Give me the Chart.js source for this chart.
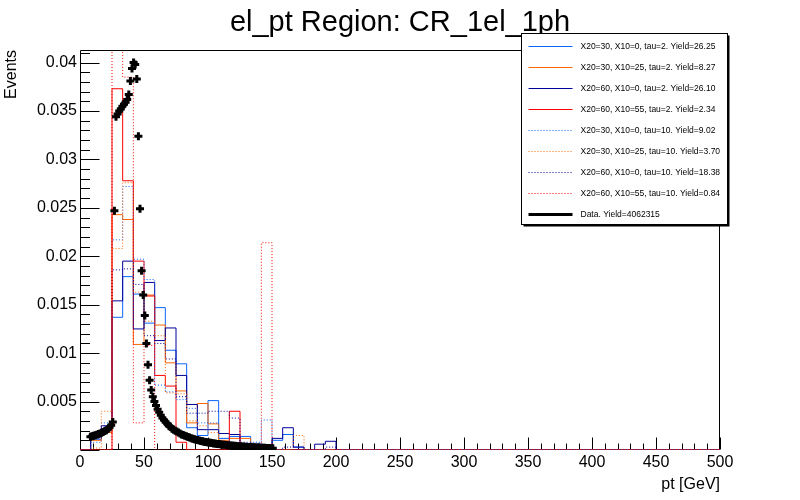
<!DOCTYPE html>
<html>
<head>
<meta charset="utf-8">
<title>el_pt Region: CR_1el_1ph</title>
<script src="https://cdn.jsdelivr.net/npm/chart.js@4.4.1/dist/chart.umd.min.js"></script>
<style>
  html, body { margin: 0; padding: 0; background: #fff; }
</style>
</head>
<body>
<canvas id="ptChart" width="800" height="500"></canvas>
<script>
// MC histograms: 60 bins of 500/60 GeV, only the first (non-empty) bins listed
const ptMax = 500;
const mcBinWidth = 500 / 60;

const h_30_0_tau2   = [0, 0.0011, 0.0021, 0.0137, 0.0179, 0.0161, 0.0131, 0.0147, 0.0103, 0.0089, 0.0023, 0.0015, 0.0051, 0.0012, 0.0014, 0.0014, 0.0003, 0.0003, 0.0010, 0.0016, 0.0003, 0, 0, 0];
const h_30_25_tau2  = [0, 0.0010, 0.0018, 0.0243, 0.0238, 0.0109, 0.0160, 0.0129, 0.0090, 0.0061, 0.0028, 0.0048, 0.0027, 0.0010, 0.0012, 0.0012, 0, 0, 0, 0, 0, 0, 0, 0];
const h_60_0_tau2   = [0, 0.0014, 0.0025, 0.0154, 0.0195, 0.0125, 0.0173, 0.0113, 0.0126, 0.0077, 0.0047, 0.0021, 0.0021, 0.0017, 0.0016, 0.0004, 0.0002, 0, 0.0012, 0.0023, 0.0003, 0, 0.0006, 0.0009];
const h_60_55_tau2  = [0, 0, 0, 0.0373, 0.0278, 0.0195, 0.0159, 0.0077, 0.0066, 0.0008, 0, 0, 0, 0, 0.0040, 0, 0, 0, 0, 0, 0, 0, 0, 0];
const h_30_0_tau10  = [0, 0.0008, 0.0028, 0.0217, 0.0272, 0.0197, 0.0176, 0.0067, 0.0060, 0.0052, 0.0043, 0.0028, 0.0028, 0.0012, 0.0008, 0.0006, 0.0008, 0.0031, 0, 0, 0, 0, 0, 0];
const h_30_25_tau10 = [0, 0.0002, 0.0040, 0.0208, 0.0276, 0.0163, 0.0133, 0.0118, 0.0059, 0.0058, 0.0030, 0.0025, 0.0018, 0.0008, 0.0006, 0.0004, 0, 0, 0, 0, 0.0015, 0, 0, 0];
const h_60_0_tau10  = [0, 0.0012, 0.0025, 0.0186, 0.0187, 0.0171, 0.0118, 0.0110, 0.0094, 0.0055, 0.0038, 0.0038, 0.0040, 0.0040, 0.0033, 0.0008, 0.0007, 0, 0, 0.0003, 0, 0, 0, 0.0003];
const h_60_55_tau10 = [0, 0, 0, 0.047, 0.0385, 0.0028, 0.0108, 0, 0, 0, 0, 0, 0, 0, 0, 0, 0, 0.0214, 0, 0, 0, 0, 0, 0];

const mcLabels = [
  'X20=30, X10=0, tau=2. Yield=26.25',
  'X20=30, X10=25, tau=2. Yield=8.27',
  'X20=60, X10=0, tau=2. Yield=26.10',
  'X20=60, X10=55, tau=2. Yield=2.34',
  'X20=30, X10=0, tau=10. Yield=9.02',
  'X20=30, X10=25, tau=10. Yield=3.70',
  'X20=60, X10=0, tau=10. Yield=18.38',
  'X20=60, X10=55, tau=10. Yield=0.84'
];
const mcColors = ['#0a64ff', '#ff6600', '#000099', '#ff0000', '#0a64ff', '#ff6600', '#000099', '#ff0000'];
const mcHists = [h_30_0_tau2, h_30_25_tau2, h_60_0_tau2, h_60_55_tau2, h_30_0_tau10, h_30_25_tau10, h_60_0_tau10, h_60_55_tau10];

// data: 1.25 GeV bins starting at 7.5 GeV
const dataLabel = 'Data. Yield=4062315';
const dataFirstEdge = 7.5;
const dataBinWidth = 1.25;
const dataValues = [
  0.00138, 0.00142, 0.00147, 0.00152, 0.00158, 0.00164, 0.00171, 0.00178, 0.00186, 0.00195,
  0.00205, 0.00218, 0.00234, 0.00255, 0.00290, 0.0247, 0.0344, 0.0347, 0.0350, 0.0352,
  0.0355, 0.0357, 0.0359, 0.0362, 0.0367, 0.0381, 0.0394, 0.0400, 0.0398, 0.0383,
  0.0324, 0.0249, 0.0185, 0.0160, 0.0139, 0.0110, 0.0088, 0.0072, 0.0062, 0.0055,
  0.0050, 0.0046, 0.0042, 0.0039, 0.0036, 0.0033, 0.0031, 0.0029, 0.0027, 0.0025,
  0.0024, 0.0022, 0.0021, 0.0020, 0.0019, 0.0018, 0.0017, 0.0016, 0.00155, 0.00148,
  0.00141, 0.00134, 0.00128, 0.00122, 0.00117, 0.00112, 0.00107, 0.00102, 0.00098, 0.00094,
  0.00090, 0.00086, 0.00083, 0.00080, 0.00077, 0.00074, 0.00071, 0.00068, 0.00066, 0.00063,
  0.00061, 0.00059, 0.00057, 0.00055, 0.00053, 0.00051, 0.00049, 0.00047, 0.00046, 0.00044,
  0.00043, 0.00041, 0.00040, 0.00038, 0.00037, 0.00036, 0.00034, 0.00033, 0.00032, 0.00031,
  0.00030, 0.00029, 0.00028, 0.00027, 0.00026, 0.00025, 0.00024, 0.00023, 0.00023, 0.00022,
  0.00021, 0.00020, 0.00020, 0.00019, 0.00018
];

const yMax = 0.0413;

function histPoints(vals) {
  const pts = vals.map((v, i) => ({x: i * mcBinWidth, y: v}));
  pts.push({x: vals.length * mcBinWidth, y: 0});
  pts.push({x: ptMax, y: 0});
  return pts;
}

const datasets = mcHists.map((h, i) => ({
  label: mcLabels[i],
  data: histPoints(h),
  borderColor: mcColors[i],
  borderWidth: 1,
  borderDash: i >= 4 ? [1, 2] : [],
  stepped: 'before',
  pointRadius: 0,
  fill: false,
  order: 8 - i
}));
datasets.push({
  label: dataLabel,
  data: dataValues.map((v, i) => ({x: dataFirstEdge + (i + 0.5) * dataBinWidth, y: v})),
  showLine: false,
  pointStyle: 'cross',
  pointRadius: 4,
  pointBorderWidth: 3,
  borderColor: '#000',
  backgroundColor: '#000',
  order: 0
});

// ROOT style frame with inner tick marks
const rootFrame = {
  id: 'rootFrame',
  beforeDatasetsDraw(chart) {
    const {ctx, chartArea: a, scales: {x, y}} = chart;
    const L = Math.round(a.left) + 0.5, R = Math.round(a.right) - 0.5;
    const T = Math.round(a.top) + 0.5, B = Math.round(a.bottom) - 0.5;
    ctx.save();
    ctx.strokeStyle = '#000';
    ctx.lineWidth = 1;
    ctx.beginPath();
    ctx.rect(L, T, R - L, B - T);
    for (let v = 0; v <= ptMax; v += 10) {
      const px = Math.round(x.getPixelForValue(v)) + 0.5;
      ctx.moveTo(px, B);
      ctx.lineTo(px, B - (v % 50 === 0 ? 12 : 6));
    }
    for (let i = 0; i * 0.001 <= yMax; i++) {
      const py = Math.round(y.getPixelForValue(i * 0.001)) + 0.5;
      ctx.moveTo(L, py);
      ctx.lineTo(L + (i % 5 === 0 ? 19 : 9.5), py);
    }
    ctx.stroke();
    ctx.restore();
  }
};

// ROOT style legend box with shadow
const rootLegend = {
  id: 'rootLegend',
  afterDraw(chart) {
    const {ctx} = chart;
    const bx = 521.5, by = 33.5, bw = 206, bh = 191, rowH = 21;
    ctx.save();
    ctx.fillStyle = '#000';
    ctx.fillRect(bx + 2, by + 2, bw, bh);
    ctx.fillStyle = '#fff';
    ctx.fillRect(bx, by, bw, bh);
    ctx.strokeStyle = '#000';
    ctx.lineWidth = 1;
    ctx.strokeRect(bx, by, bw, bh);
    ctx.font = "8.5px 'Liberation Sans', Arial, sans-serif";
    ctx.textBaseline = 'middle';
    ctx.textAlign = 'left';
    chart.data.datasets.forEach((ds, i) => {
      const cy = Math.round(by + 12 + i * rowH) + 0.5;
      ctx.beginPath();
      if (ds.showLine === false) {
        ctx.strokeStyle = '#000';
        ctx.lineWidth = 3;
        ctx.setLineDash([]);
      } else {
        ctx.strokeStyle = ds.borderColor;
        ctx.lineWidth = ds.borderWidth;
        ctx.setLineDash(ds.borderDash);
      }
      ctx.moveTo(bx + 7, cy);
      ctx.lineTo(bx + 51, cy);
      ctx.stroke();
      ctx.setLineDash([]);
      ctx.fillStyle = '#000';
      ctx.fillText(ds.label, bx + 59, cy);
    });
    ctx.restore();
  }
};

Chart.defaults.font.family = "'Liberation Sans', Arial, sans-serif";
Chart.defaults.color = '#000';

new Chart(document.getElementById('ptChart').getContext('2d'), {
  type: 'line',
  data: {datasets},
  options: {
    responsive: false,
    animation: false,
    devicePixelRatio: 1,
    layout: {padding: 0},
    plugins: {
      legend: {display: false},
      tooltip: {enabled: false},
      title: {
        display: true,
        text: 'el_pt Region: CR_1el_1ph',
        font: {size: 29, weight: 'normal'},
        color: '#000',
        padding: {top: 6, bottom: 9.2}
      }
    },
    scales: {
      x: {
        type: 'linear',
        min: 0,
        max: ptMax,
        grid: {display: false, drawTicks: false},
        border: {display: false},
        ticks: {stepSize: 50, font: {size: 16}, padding: 3, maxRotation: 0, autoSkip: false},
        title: {display: true, text: 'pt [GeV]', align: 'end', font: {size: 16}, padding: {top: 0, bottom: 6}},
        afterFit(s) { s.height = 50; }
      },
      y: {
        type: 'linear',
        min: 0,
        max: yMax,
        grid: {display: false, drawTicks: false},
        border: {display: false},
        ticks: {
          stepSize: 0.005,
          includeBounds: false,
          font: {size: 16},
          padding: 3,
          callback: v => v === 0 ? '' : String(+v.toFixed(3))
        },
        title: {display: true, text: 'Events', align: 'end', font: {size: 16}, padding: {top: 2.4, bottom: 0}},
        afterFit(s) { s.width = 80; }
      },
      // empty right margin so the title stays centred on the whole canvas
      yRight: {
        position: 'right',
        display: true,
        grid: {display: false, drawTicks: false},
        border: {display: false},
        ticks: {display: false},
        afterFit(s) { s.width = 80; }
      }
    }
  },
  plugins: [rootFrame, rootLegend]
});
</script>
</body>
</html>
